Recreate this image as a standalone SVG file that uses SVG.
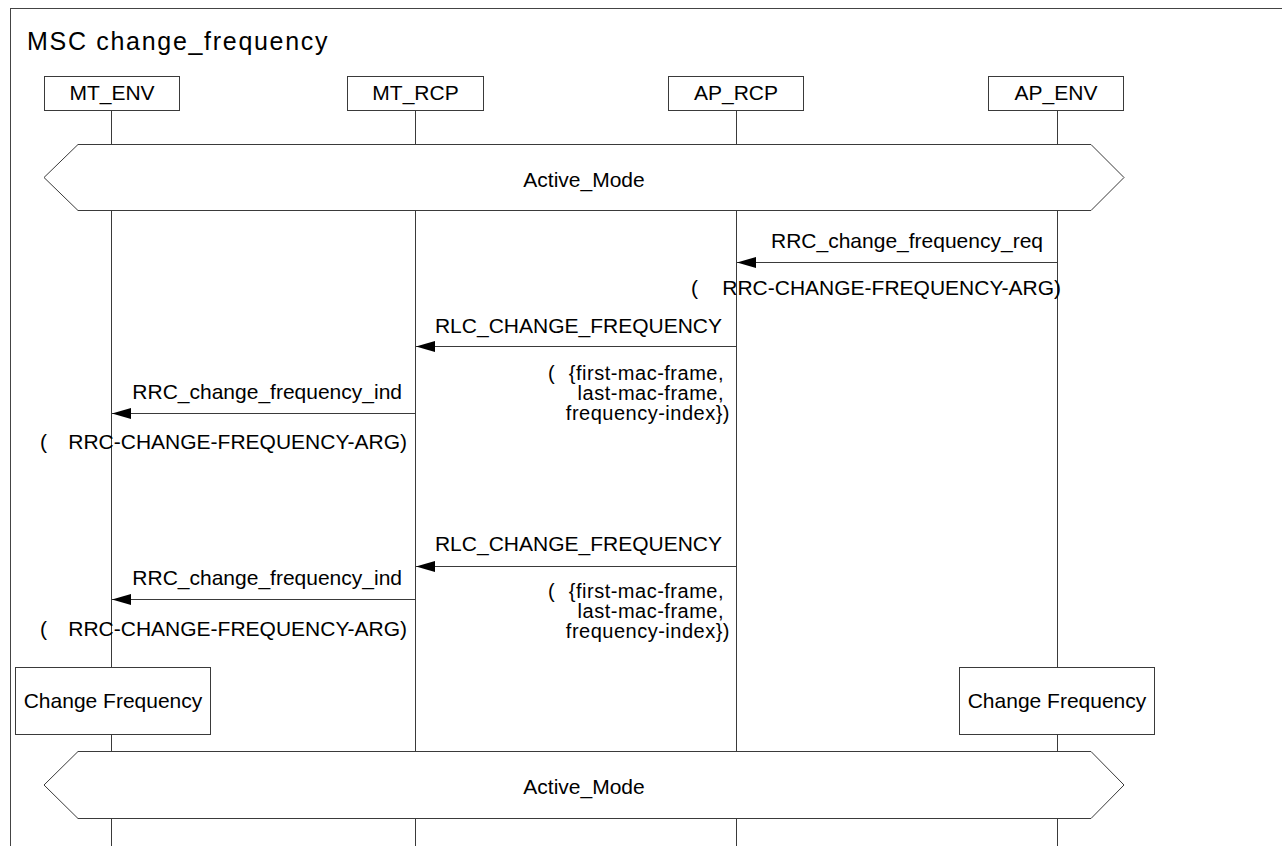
<svg xmlns="http://www.w3.org/2000/svg" width="1282" height="846" viewBox="0 0 1282 846">
  <style>
    text { font-family: "Liberation Sans", Arial, sans-serif; font-size: 21px; fill: #000; }
    .title { font-size: 25px; letter-spacing: 1.7px; }
    .param { font-size: 20px; letter-spacing: 0.5px; }
    .mid { text-anchor: middle; }
    .end { text-anchor: end; }
    .box { fill: #fff; stroke: #3a3a3a; stroke-width: 1; }
    .life { stroke: #3a3a3a; stroke-width: 1; fill: none; }
    .msg { stroke: #3a3a3a; stroke-width: 1; fill: none; marker-end: url(#arrow); }
    .frame { fill: none; stroke: #444; stroke-width: 1; }
  </style>
  <defs>
    <marker id="arrow" markerUnits="userSpaceOnUse" markerWidth="20" markerHeight="12" refX="19" refY="5.5" orient="auto">
      <path d="M0,0 L19,5.5 L0,11 Z" fill="#000"/>
    </marker>
  </defs>

  <rect width="1282" height="846" fill="#fff"/>

  <!-- MSC frame -->
  <rect class="frame" x="10.5" y="8.5" width="1300" height="900"/>
  <text class="title" x="27" y="50">MSC change_frequency</text>

  <!-- lifelines -->
  <g id="lifelines">
    <line class="life" x1="111.5" y1="110" x2="111.5" y2="846"/>
    <line class="life" x1="415.5" y1="110" x2="415.5" y2="846"/>
    <line class="life" x1="736.5" y1="110" x2="736.5" y2="846"/>
    <line class="life" x1="1057.5" y1="110" x2="1057.5" y2="846"/>
  </g>

  <!-- instance heads -->
  <g id="MT_ENV">
    <rect class="box" x="44.5" y="76.5" width="135" height="34"/>
    <text class="mid" x="112" y="100">MT_ENV</text>
  </g>
  <g id="MT_RCP">
    <rect class="box" x="347.5" y="76.5" width="136" height="34"/>
    <text class="mid" x="415.5" y="100">MT_RCP</text>
  </g>
  <g id="AP_RCP">
    <rect class="box" x="668.5" y="76.5" width="135" height="34"/>
    <text class="mid" x="736" y="100">AP_RCP</text>
  </g>
  <g id="AP_ENV">
    <rect class="box" x="988.5" y="76.5" width="135" height="34"/>
    <text class="mid" x="1056" y="100">AP_ENV</text>
  </g>

  <!-- conditions -->
  <g id="active_mode_top">
    <polygon class="box" points="44,177.5 78,144.5 1091,144.5 1124,177.5 1091,210.5 78,210.5"/>
    <text class="mid" x="584" y="187">Active_Mode</text>
  </g>
  <g id="active_mode_bottom">
    <polygon class="box" points="44,785 78,751.5 1091,751.5 1124,785 1091,818.5 78,818.5"/>
    <text class="mid" x="584" y="794">Active_Mode</text>
  </g>

  <!-- actions -->
  <g id="change_frequency_mt">
    <rect class="box" x="15.5" y="667.5" width="195" height="67"/>
    <text class="mid" x="113" y="708">Change Frequency</text>
  </g>
  <g id="change_frequency_ap">
    <rect class="box" x="959.5" y="667.5" width="195" height="67"/>
    <text class="mid" x="1057" y="708">Change Frequency</text>
  </g>

  <!-- messages -->
  <g id="connectors">
    <line class="msg" x1="1057.5" y1="262.5" x2="737" y2="262.5"/>
    <line class="msg" x1="736.5" y1="346.5" x2="416" y2="346.5"/>
    <line class="msg" x1="415.5" y1="413.5" x2="112" y2="413.5"/>
    <line class="msg" x1="736.5" y1="566.5" x2="416" y2="566.5"/>
    <line class="msg" x1="415.5" y1="599.5" x2="112" y2="599.5"/>
  </g>

  <g id="labels">
    <text class="end" x="1043" y="248">RRC_change_frequency_req</text>
    <text x="691" y="295">(</text>
    <text class="end" x="1061" y="295">RRC-CHANGE-FREQUENCY-ARG)</text>

    <text class="end" x="722" y="333">RLC_CHANGE_FREQUENCY</text>
    <text class="param" x="548" y="380">(</text>
    <text class="param end" x="724" y="380">{first-mac-frame,</text>
    <text class="param end" x="724" y="400">last-mac-frame,</text>
    <text class="param end" x="730" y="420">frequency-index})</text>

    <text class="end" x="402" y="399">RRC_change_frequency_ind</text>
    <text x="40" y="449">(</text>
    <text class="end" x="407" y="449">RRC-CHANGE-FREQUENCY-ARG)</text>

    <text class="end" x="722" y="551">RLC_CHANGE_FREQUENCY</text>
    <text class="param" x="548" y="598">(</text>
    <text class="param end" x="724" y="598">{first-mac-frame,</text>
    <text class="param end" x="724" y="618">last-mac-frame,</text>
    <text class="param end" x="730" y="638">frequency-index})</text>

    <text class="end" x="402" y="585">RRC_change_frequency_ind</text>
    <text x="40" y="636">(</text>
    <text class="end" x="407" y="636">RRC-CHANGE-FREQUENCY-ARG)</text>
  </g>
</svg>
